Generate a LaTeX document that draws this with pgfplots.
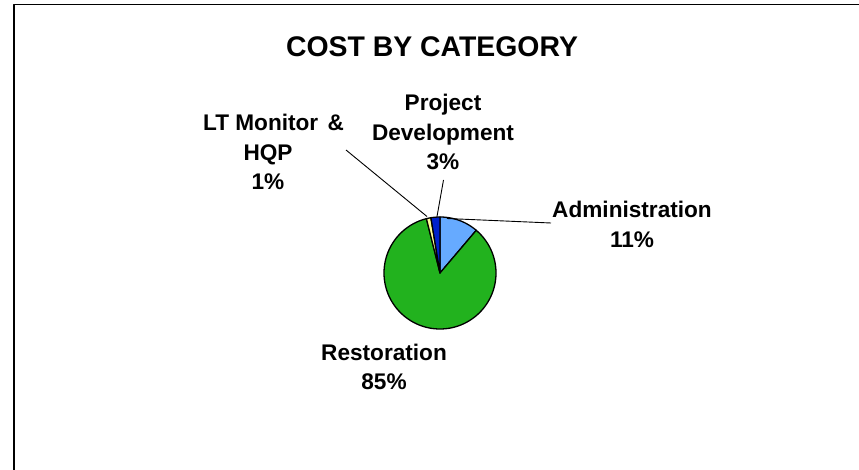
\documentclass[border=0pt]{standalone}
\usepackage{pgfplots}
\pgfplotsset{compat=1.18}
\usepackage{pgfplotstable}
\usepackage{fontspec}
\setmainfont{Liberation Sans}
\definecolor{cadmin}{RGB}{102,170,255}
\definecolor{crest}{RGB}{34,178,30}
\definecolor{cltm}{RGB}{255,255,153}
\definecolor{cpd}{RGB}{0,34,204}
\pgfplotstableread{
category share
Administration 11.2
Restoration 84.9
LTMonitorHQP 1.3
ProjectDevelopment 2.6
}\shares
\pgfplotstablegetelem{0}{share}\of\shares\let\vA\pgfplotsretval
\pgfplotstablegetelem{1}{share}\of\shares\let\vB\pgfplotsretval
\pgfplotstablegetelem{2}{share}\of\shares\let\vC\pgfplotsretval
\pgfplotstablegetelem{3}{share}\of\shares\let\vD\pgfplotsretval
\pgfmathsetmacro\aO{90}
\pgfmathsetmacro\aA{\aO-3.6*\vA}
\pgfmathsetmacro\aB{\aA-3.6*\vB}
\pgfmathsetmacro\aC{\aB-3.6*\vC}
\pgfmathsetmacro\aD{\aC-3.6*\vD}
\begin{document}%
\begin{tikzpicture}
\begin{axis}[
  width=859bp, height=470bp, scale only axis,
  at={(0,0)}, anchor=south west,
  xmin=0, xmax=859, ymin=0, ymax=470,
  hide axis, clip=false,
  every axis plot/.append style={line join=round},
]
% frame
\addplot[black, line width=1.6bp] coordinates {(14,0) (14,465.5) (859,465.5)};
% pie slices
\addplot[fill=cadmin, draw=black, line width=1.3bp, domain=\aA:\aO, samples=40, variable=\t]
  ({440+56*cos(\t)}, {197+56*sin(\t)}) -- (440,197) -- cycle;
\addplot[fill=crest, draw=black, line width=1.3bp, domain=\aB:\aA, samples=160, variable=\t]
  ({440+56*cos(\t)}, {197+56*sin(\t)}) -- (440,197) -- cycle;
\addplot[fill=cltm, draw=black, line width=1.3bp, domain=\aC:\aB, samples=8, variable=\t]
  ({440+56*cos(\t)}, {197+56*sin(\t)}) -- (440,197) -- cycle;
\addplot[fill=cpd, draw=black, line width=1.3bp, domain=\aD:\aC, samples=12, variable=\t]
  ({440+56*cos(\t)}, {197+56*sin(\t)}) -- (440,197) -- cycle;
% leader lines
\addplot[black, line width=0.9bp] coordinates {(447,251.5) (551,247)};
\addplot[black, line width=0.9bp] coordinates {(443.5,290) (437,253.5)};
\addplot[black, line width=0.9bp] coordinates {(346,320) (427,253.5)};
% texts
\node[font=\bfseries\fontsize{28.5}{34}\selectfont] at (432,423) {COST BY CATEGORY};
\tikzset{lbl/.style={align=center, font=\bfseries\fontsize{22.7}{29.5}\selectfont, inner sep=0pt}}
\node[lbl] at (443,338) {Project\\Development\\3\%};
\node[lbl] at (268,318) {\hspace*{11bp}LT Monitor\ \kern3bp\&\\HQP\\1\%};
\node[lbl] at (632,245.5) {Administration\\11\%};
\node[lbl] at (384,103) {Restoration\\85\%};
\end{axis}
\pgfresetboundingbox
\useasboundingbox (0,0) rectangle (859bp,470bp);
\end{tikzpicture}%
\end{document}
